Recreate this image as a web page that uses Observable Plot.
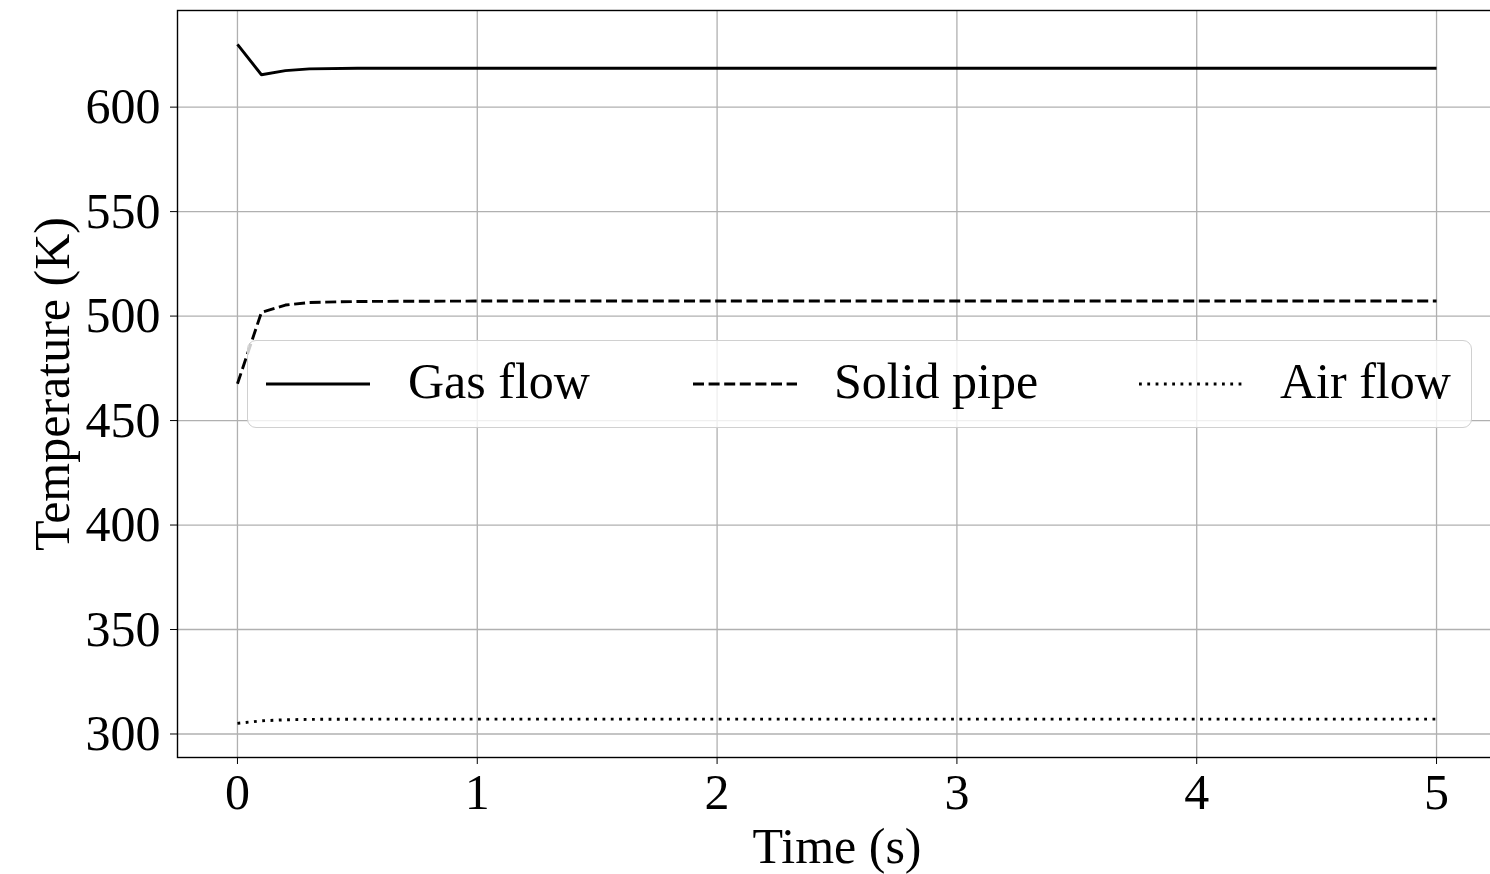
<!DOCTYPE html>
<html>
<head>
<meta charset="utf-8">
<script src="https://cdn.jsdelivr.net/npm/d3@7"></script>
<script src="https://cdn.jsdelivr.net/npm/@observablehq/plot@0.6"></script>
<style>
  html, body { margin: 0; padding: 0; background: #fff; overflow: hidden; width: 1490px; height: 874px; }
  #wrap { position: relative; width: 1500px; height: 874px; }
  #legend {
    position: absolute; left: 247px; top: 340px; width: 1223px; height: 86px;
    border: 1.5px solid #d0d0d0; border-radius: 9px; background: rgba(255,255,255,0.8);
    font-family: "Liberation Serif", "Times New Roman", serif; font-size: 50px; color: #000;
  }
  #legend .item { position: absolute; top: 0; height: 86px; display: flex; align-items: center; white-space: nowrap; }
  #legend svg { display: block; }
</style>
</head>
<body>
<div id="wrap"></div>
<script>
const time  = [0, 0.1, 0.2, 0.3, 0.5, 1, 2, 3, 4, 5];
const gas   = [630, 615.5, 617.5, 618.3, 618.6, 618.6, 618.6, 618.6, 618.6, 618.6];
const solid = [467.6, 501.8, 505.3, 506.5, 507.0, 507.2, 507.2, 507.2, 507.2, 507.2];
const air   = [305.1, 306.3, 306.8, 307.0, 307.1, 307.1, 307.1, 307.1, 307.1, 307.1];
const seriesNames = ["Gas flow", "Solid pipe", "Air flow"];
const xTicks = [0, 1, 2, 3, 4, 5];
const yTicks = [300, 350, 400, 450, 500, 550, 600];

const rows = (vals) => time.map((t, i) => ({t, v: vals[i]}));
const dashes = ["none", "11,4.6", "2.8,5.5"];
const seriesData = [gas, solid, air].map(rows);

const lineMarks = seriesData.map((d, i) => Plot.line(d, {
  x: "t", y: "v", stroke: "black", strokeWidth: 2.9,
  strokeDasharray: dashes[i], strokeLinejoin: "miter", strokeLinecap: "butt"
}));

const chart = Plot.plot({
  width: 1500, height: 874,
  marginLeft: 177, marginRight: 4, marginTop: 10, marginBottom: 117,
  style: {fontFamily: "'Liberation Serif', 'Times New Roman', serif", fontSize: "50px", color: "black", background: "white"},
  x: {domain: [-0.25, 5.25]},
  y: {domain: [288.75, 646.25]},
  marks: [
    Plot.gridX(xTicks, {stroke: "#b0b0b0", strokeOpacity: 1, strokeWidth: 1.3}),
    Plot.gridY(yTicks, {stroke: "#b0b0b0", strokeOpacity: 1, strokeWidth: 1.3}),
    ...lineMarks,
    Plot.frame({stroke: "black", strokeWidth: 1.4}),
    Plot.axisX(xTicks, {tickSize: 7, tickPadding: 9, label: null, tickFormat: d => d, fontSize: 50}),
    Plot.axisY(yTicks, {tickSize: 7, tickPadding: 10, label: null, tickFormat: d => d, fontSize: 50}),
    Plot.text(["Time (s)"], {frameAnchor: "bottom", dy: 89, fontSize: 50, lineAnchor: "middle", textAnchor: "middle"}),
    Plot.text(["Temperature (K)"], {frameAnchor: "left", dx: -125, rotate: -90, fontSize: 50, lineAnchor: "middle", textAnchor: "middle"})
  ]
});
document.getElementById("wrap").appendChild(chart);

// legend
const legend = document.createElement("div");
legend.id = "legend";
const lineX = [18, 445, 891];
const textX = [160, 586, 1032];
seriesNames.forEach((name, i) => {
  const sw = document.createElement("div");
  sw.className = "item";
  sw.style.left = lineX[i] + "px";
  sw.innerHTML = `<svg width="104" height="10"><line x1="0" y1="5" x2="104" y2="5" stroke="black" stroke-width="2.9" stroke-dasharray="${dashes[i]}"/></svg>`;
  legend.appendChild(sw);
  const tx = document.createElement("div");
  tx.className = "item";
  tx.style.left = textX[i] + "px";
  tx.style.top = "-3px";
  tx.textContent = name;
  legend.appendChild(tx);
});
document.getElementById("wrap").appendChild(legend);
</script>
</body>
</html>
